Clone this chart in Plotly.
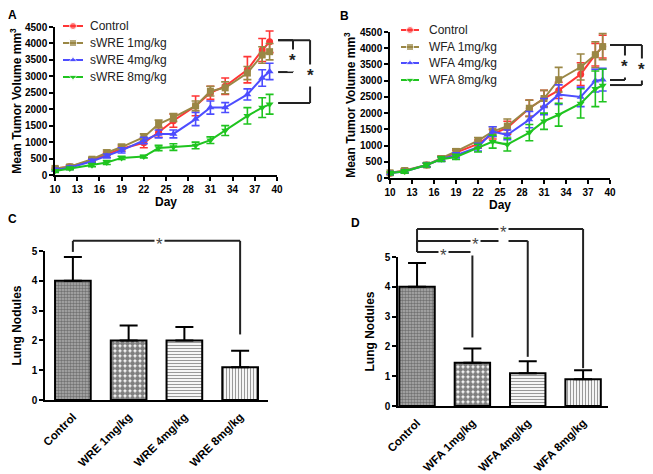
import plotly.graph_objects as go

# --- Data ---
days = [10, 12, 15, 17, 19, 22, 24, 26, 29, 31, 33, 36, 38, 39]

# panel A (sWRE)
ctrl_a = [200, 250, 450, 620, 800, 980, 1300, 1650, 2100, 2500, 2700, 3200, 3800, 4050]
ctrl_a_err = [60, 50, 60, 80, 80, 150, 150, 200, 300, 200, 250, 400, 350, 330]
w1_a = [200, 250, 480, 680, 850, 1150, 1550, 1750, 2100, 2550, 2650, 3100, 3650, 3750]
w1_a_err = [60, 50, 60, 80, 80, 100, 120, 120, 150, 150, 180, 200, 250, 250]
w4_a = [150, 220, 420, 580, 750, 1050, 1250, 1250, 1700, 2050, 2050, 2450, 2950, 3150]
w4_a_err = [50, 50, 60, 60, 80, 100, 120, 120, 200, 200, 150, 170, 250, 250]
w8_a = [120, 200, 300, 380, 520, 560, 820, 850, 900, 1060, 1350, 1800, 2050, 2150]
w8_a_err = [40, 40, 50, 60, 50, 40, 80, 100, 100, 100, 150, 250, 300, 300]

# panel B (WFA)
ctrl_b = [150, 220, 400, 600, 780, 1050, 1350, 1550, 2150, 2450, 2700, 3200, 3800, 4050]
ctrl_b_err = [50, 60, 60, 80, 80, 120, 150, 200, 250, 250, 250, 350, 350, 350]
w1_b = [160, 230, 400, 600, 820, 1150, 1430, 1600, 2150, 2450, 3030, 3420, 3800, 4050]
w1_b_err = [50, 60, 60, 80, 80, 100, 150, 220, 250, 250, 380, 400, 400, 400]
w4_b = [150, 200, 400, 580, 700, 950, 1430, 1330, 1800, 2200, 2570, 2500, 3000, 3030]
w4_b_err = [50, 50, 60, 70, 80, 120, 150, 150, 250, 250, 300, 300, 350, 350]
w8_b = [150, 200, 400, 580, 650, 920, 1120, 1030, 1400, 1750, 1950, 2300, 2750, 2850]
w8_b_err = [50, 50, 60, 70, 80, 120, 200, 200, 250, 250, 350, 450, 550, 500]

names_a = ["Control", "sWRE 1mg/kg", "sWRE 4mg/kg", "sWRE 8mg/kg"]
names_b = ["Control", "WFA 1mg/kg", "WFA 4mg/kg", "WFA 8mg/kg"]

# panels C, D (lung nodules)
cats_c = ["Control", "WRE 1mg/kg", "WRE 4mg/kg", "WRE 8mg/kg"]
nod_c = [4.0, 2.0, 2.0, 1.1]
nod_c_err = [0.8, 0.5, 0.45, 0.55]
cats_d = ["Control", "WFA 1mg/kg", "WFA 4mg/kg", "WFA 8mg/kg"]
nod_d = [4.0, 1.45, 1.1, 0.9]
nod_d_err = [0.8, 0.48, 0.4, 0.3]

colors = ["#ff3535", "#9a8745", "#4d4dff", "#1fc41f"]
symbols = ["circle", "square", "triangle-up", "triangle-down"]

FONT = "Liberation Sans, Arial, sans-serif"
# the page body has an 8px margin, so the figure is drawn 8px smaller and
# all positions below are given in page pixels
OFF = 8
W, H = 653 - OFF, 474 - OFF

def px_x(p):
    return (p - OFF) / W

def px_y(p):
    return 1 - (p - OFF) / H

fig = go.Figure()

# --- line panels ---
def add_lines(series, errs, names, xa, ya):
    for s, e, n, c, sym in zip(series, errs, names, colors, symbols):
        fig.add_trace(go.Scatter(
            x=days, y=s, name=n, mode="lines+markers", showlegend=False,
            xaxis=xa, yaxis=ya, cliponaxis=False,
            line=dict(color=c, width=2),
            marker=dict(color=c, symbol=sym, size=7),
            error_y=dict(type="data", array=e, color=c, thickness=1.6, width=4),
        ))

add_lines([ctrl_a, w1_a, w4_a, w8_a], [ctrl_a_err, w1_a_err, w4_a_err, w8_a_err],
          names_a, "x", "y")
add_lines([ctrl_b, w1_b, w4_b, w8_b], [ctrl_b_err, w1_b_err, w4_b_err, w8_b_err],
          names_b, "x2", "y2")

# --- bar panels ---
patterns = [
    dict(shape=".", size=3, solidity=0.55, fgcolor="#333333", bgcolor="#b0b0b0"),
    dict(shape=".", size=5, solidity=0.75, fgcolor="#000000", bgcolor="white"),
    dict(shape="-", size=3, solidity=0.4, fgcolor="#333333", bgcolor="white"),
    dict(shape="|", size=3, solidity=0.4, fgcolor="#333333", bgcolor="white"),
]

def add_bars(cats, vals, errs, xa, ya):
    for c, v, e, p in zip(cats, vals, errs, patterns):
        fig.add_trace(go.Bar(
            x=[c], y=[v], xaxis=xa, yaxis=ya, showlegend=False, width=0.64,
            marker=dict(color="white", pattern=p, line=dict(color="black", width=2)),
            error_y=dict(type="data", array=[e], arrayminus=[0], symmetric=False,
                         color="black", thickness=2, width=9),
        ))

add_bars(cats_c, nod_c, nod_c_err, "x3", "y3")
add_bars(cats_d, nod_d, nod_d_err, "x4", "y4")

# --- axes ---
tick_font = dict(family=FONT, size=10, color="black", weight="bold")
cat_font = dict(family=FONT, size=11.5, color="black", weight="bold")
title_font = dict(family=FONT, size=12, color="black", weight="bold")
axis_common = dict(showline=True, linecolor="black", linewidth=1.5, ticks="outside",
                   ticklen=4, tickwidth=1.5, tickcolor="black", showgrid=False,
                   zeroline=False, tickfont=tick_font, title_font=title_font,
                   automargin=False)
cat_axis = {**axis_common, "ticks": "", "tickfont": cat_font, "tickangle": -45,
            "ticklabelstandoff": 4}

dom = {
    "a": ([55, 277], [175, 27]),
    "b": ([390, 610], [178, 32]),
    "c": ([45, 268], [400, 251]),
    "d": ([398, 608], [406, 257]),
}

def xdom(k):
    return [px_x(dom[k][0][0]), px_x(dom[k][0][1])]

def ydom(k):
    return [px_y(dom[k][1][0]), px_y(dom[k][1][1])]

ranges = {"c": [-0.5, 3.5], "d": [-0.344, 3.45]}

fig.update_layout(
    xaxis=dict(domain=xdom("a"), anchor="y", range=[10, 40], tickvals=list(range(10, 41, 3)),
               title=dict(text="Day", standoff=3), **axis_common),
    yaxis=dict(domain=ydom("a"), anchor="x", range=[0, 4500], dtick=500,
               title=dict(text="Mean Tumor Volume mm<sup>3</sup>", standoff=2), **axis_common),
    xaxis2=dict(domain=xdom("b"), anchor="y2", range=[10, 40], tickvals=list(range(10, 41, 3)),
                title=dict(text="Day", standoff=3), **axis_common),
    yaxis2=dict(domain=ydom("b"), anchor="x2", range=[0, 4500], dtick=500,
                title=dict(text="Mean Tumor Volume mm<sup>3</sup>", standoff=2), **axis_common),
    xaxis3=dict(domain=xdom("c"), anchor="y3", range=ranges["c"], **cat_axis),
    yaxis3=dict(domain=ydom("c"), anchor="x3", range=[0, 5], dtick=1,
                title=dict(text="Lung Nodules", standoff=7), **axis_common),
    xaxis4=dict(domain=xdom("d"), anchor="y4", range=ranges["d"], **cat_axis),
    yaxis4=dict(domain=ydom("d"), anchor="x4", range=[0, 5], dtick=1,
                title=dict(text="Lung Nodules", standoff=7), **axis_common),
    # overlay in page pixel units, used for the hand-drawn legends
    xaxis5=dict(domain=[0, 1], range=[OFF, OFF + W], visible=False, anchor="y5",
                fixedrange=True),
    yaxis5=dict(domain=[0, 1], range=[OFF + H, OFF], visible=False, anchor="x5",
                fixedrange=True),
)

shapes = []
annotations = []

# --- legends (drawn by hand for tight row spacing) ---
def add_legend(names, x0, x1, xtext, rows):
    for n, c, sym, yrow in zip(names, colors, symbols, rows):
        fig.add_trace(go.Scatter(
            x=[x0, (x0 + x1) / 2, x1], y=[yrow] * 3, xaxis="x5", yaxis="y5",
            mode="lines+markers", showlegend=False, hoverinfo="skip",
            line=dict(color=c, width=2),
            marker=dict(color=c, symbol=sym, size=[0, 7, 0]),
        ))
        annotations.append(dict(text=n, xref="paper", yref="paper", x=px_x(xtext),
                                y=px_y(yrow), xanchor="left", yanchor="middle",
                                showarrow=False,
                                font=dict(family=FONT, size=12, color="#222222")))

add_legend(names_a, 63, 83, 88, [26, 43, 60, 77])
add_legend(names_b, 401, 419, 427, [30, 47, 63, 80])

# --- significance brackets ---
def seg(x0, y0, x1, y1, ax):
    shapes.append(dict(type="line", xref=f"{ax[0]} domain", yref=f"{ax[1]} domain",
                       x0=x0, y0=y0, x1=x1, y1=y1, line=dict(color="#222222", width=2)))

def star(x, y, ax, size, bold, color, shift):
    annotations.append(dict(text="*", xref=f"{ax[0]} domain", yref=f"{ax[1]} domain",
                            x=x, y=y, xanchor="center", yanchor="middle",
                            showarrow=False, bgcolor="white", borderpad=1, yshift=shift,
                            font=dict(family=FONT, size=size, color=color,
                                      weight="bold" if bold else "normal")))

def line_bracket(ax, xl, xr, ytop, ybot, ymax=4500):
    t, b = ytop / ymax, ybot / ymax
    seg(xl, t, xr, t, ax)
    seg(xr, t, xr, b, ax)
    seg(xl, b, xr, b, ax)
    star(xr, (t + b) / 2, ax, 17, True, "#222222", -4)

line_bracket(("x", "y"), 1.005, 1.072, 4100, 3130)
line_bracket(("x", "y"), 1.005, 1.149, 4100, 2190)
line_bracket(("x2", "y2"), 1.0, 1.068, 4100, 3020)
line_bracket(("x2", "y2"), 1.0, 1.145, 4100, 2865)

def cat_frac(i, r):
    return (i - r[0]) / (r[1] - r[0])

def bar_bracket(ax, r, i0, i1, ytop, yleft, yright, xstar):
    t = ytop / 5
    x0, x1 = cat_frac(i0, r), cat_frac(i1, r)
    seg(x0, t, x1, t, ax)
    seg(x0, t, x0, yleft / 5, ax)
    seg(x1, t, x1, yright / 5, ax)
    star(cat_frac(xstar, r), t, ax, 17, False, "#444444", -4)

bar_bracket(("x3", "y3"), ranges["c"], 0, 3, 5.34, 4.97, 2.2, 1.56)
bar_bracket(("x4", "y4"), ranges["d"], 0, 3, 5.94, 5.17, 1.27, 1.57)
bar_bracket(("x4", "y4"), ranges["d"], 0, 2, 5.54, 5.17, 1.65, 1.05)
bar_bracket(("x4", "y4"), ranges["d"], 0, 1, 5.17, 5.17, 2.3, 0.47)

# panel letters
for letter, (lx, ly) in zip("ABCD", [(12, 15), (345, 16), (12, 219), (355, 223)]):
    annotations.append(dict(text=letter, xref="paper", yref="paper", x=px_x(lx), y=px_y(ly),
                            xanchor="center", yanchor="middle", showarrow=False,
                            font=dict(family=FONT, size=12, color="black", weight="bold")))

fig.update_layout(
    width=W, height=H,
    margin=dict(l=0, r=0, t=0, b=0),
    paper_bgcolor="white", plot_bgcolor="rgba(0,0,0,0)",
    font=dict(family=FONT, color="black"),
    showlegend=False,
    shapes=shapes,
    annotations=annotations,
)

fig.write_html("out.html")
